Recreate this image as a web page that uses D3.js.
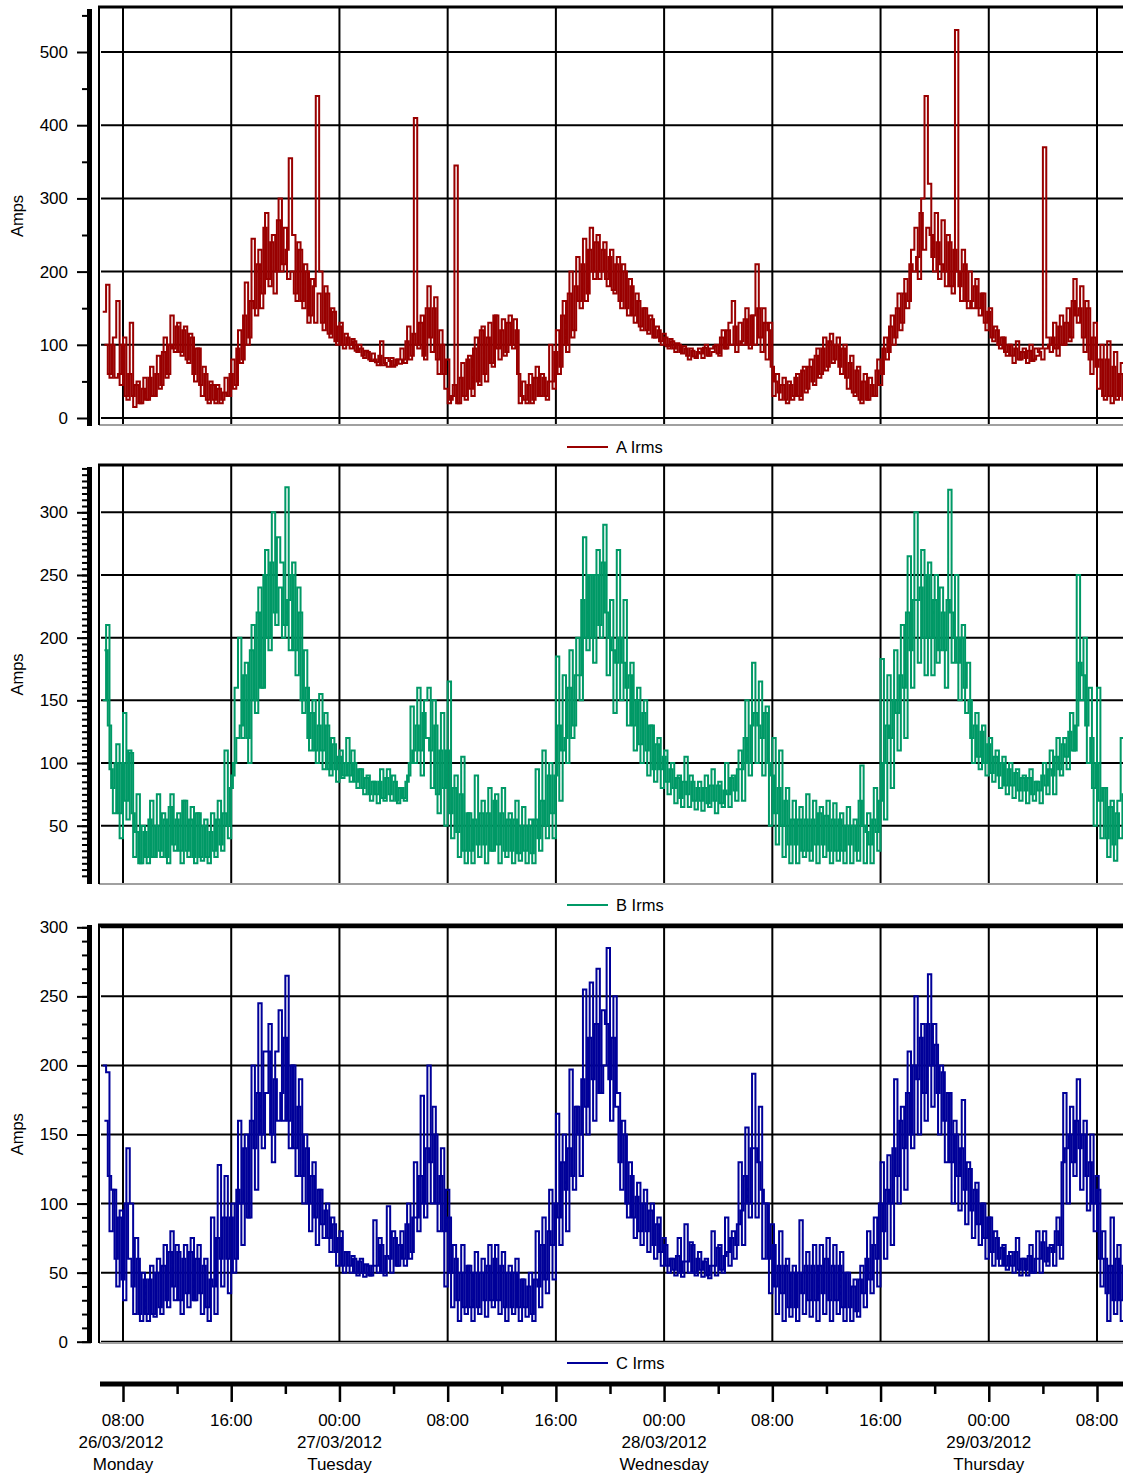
<!DOCTYPE html>
<html>
<head>
<meta charset="utf-8">
<script src="https://cdn.jsdelivr.net/npm/d3@7"></script>
<style>
  body { margin: 0; background: #fff; }
  text { font-family: Arial, "Liberation Sans", sans-serif; fill: #000; }
</style>
</head>
<body>
<svg id="chart" width="1123" height="1475"></svg>
<script>
// ---------------- DATA ----------------
const START = "2012-03-26 06:30:00";  // first sample of the main trace
const STEP_SEC = 900;                  // 15 min sampling step
const ALT_OFFSET_SEC = 450;            // second overlapping trace is sampled 7.5 min later
const seriesNames = ["A Irms", "B Irms", "C Irms"];

// one row per hour (4 samples of 15 min), rows start at hh:30
const aIrms = [
  // 26/03
  145,182,55,110, 160,45,110,25, 130,15,50,20, 55,25,70,30, 85,45,110,60, 140,90,130,85,
  125,75,110,50, 95,30,60,20, 45,20,40,25, 55,30,80,45, 120,80,185,110, 245,140,230,170,
  280,180,250,200, 300,210,230,355, 250,160,230,150, 200,140,180,440, 200,120,170,110, 145,100,130,95,
  // 27/03
  110,95,105,90, 95,82,90,78, 80,72,105,75, 70,82,72,80, 95,75,125,85, 410,95,140,80,
  180,90,165,60, 100,40,20,30, 345,20,75,25, 85,30,110,45, 125,50,130,70, 140,80,135,90,
  140,95,120,20, 50,20,60,25, 70,30,55,25, 100,40,120,70, 160,90,200,120, 220,150,245,170,
  260,190,250,200, 240,180,230,170, 220,150,200,140, 180,130,160,120, 150,115,135,110, 120,100,110,95,
  // 28/03
  105,90,100,88, 95,80,92,82, 95,82,100,85, 90,100,85,120, 95,130,160,90, 130,100,150,95,
  140,210,110,150, 80,130,30,60, 25,55,20,45, 30,60,25,70, 40,80,45,95, 60,110,70,115,
  80,110,60,100, 40,85,30,70, 20,60,25,45, 30,80,60,110, 90,140,110,170, 130,190,160,230,
  260,190,300,440, 320,220,280,190, 270,180,240,170, 530,180,230,160, 200,150,190,140, 170,120,150,105,
  // 29/03
  120,95,110,85, 100,75,105,80, 95,75,100,80, 85,95,370,110, 90,130,85,140, 100,150,110,190,
  130,180,90,150, 60,130,40,100, 25,105,20,90, 30,75,20,70
];
const aIrmsAlt = [
  // 26/03
  100,60,100,55, 60,100,30,60, 30,45,20,40, 25,55,30,60, 40,90,55,100, 95,125,90,120,
  80,115,60,95, 45,70,25,50, 25,45,20,35, 30,60,40,95, 75,140,100,160, 150,210,150,260,
  190,240,170,270, 200,260,190,200, 170,240,160,210, 130,190,130,170, 130,180,115,150, 105,125,100,115,
  // 27/03
  100,108,92,100, 85,92,80,88, 76,85,72,82, 78,70,80,74, 80,105,80,115, 100,130,85,150,
  110,150,80,120, 60,80,25,45, 20,55,30,80, 40,95,50,120, 60,110,75,140, 95,120,85,130,
  100,135,60,30, 25,45,20,55, 30,60,30,50, 50,90,60,140, 100,170,110,180, 160,210,160,230,
  200,240,190,230, 190,220,175,210, 160,210,150,190, 140,170,125,150, 120,140,110,125, 105,115,98,108,
  // 28/03
  95,102,90,98, 85,95,84,90, 88,96,85,95, 98,88,110,95, 120,100,125,100, 105,135,100,140,
  100,150,90,130, 120,70,50,35, 45,25,50,25, 55,30,65,35, 70,50,85,55, 95,65,105,75,
  100,70,95,55, 75,35,65,25, 50,25,55,30, 65,45,95,80, 125,100,150,120, 170,150,210,200,
  220,280,230,260, 250,200,240,210, 200,250,180,230, 200,160,210,150, 160,180,150,170, 130,145,110,125,
  // 29/03
  100,110,90,100, 85,95,80,90, 82,92,78,95, 90,80,95,100, 110,95,125,100, 130,105,160,140,
  150,110,160,80, 110,70,80,30, 80,30,70,25, 60,25,80,30
];

const bIrms = [
  // 26/03
  150,210,95,60, 115,40,140,55, 108,25,75,20, 45,20,70,25, 75,25,55,20, 75,30,60,20,
  70,25,65,20, 60,22,55,20, 60,25,70,30, 110,40,90,160, 200,120,180,100, 210,140,240,160,
  270,190,300,210, 240,200,320,190, 260,170,220,140, 160,110,150,100, 155,95,130,90, 115,85,110,90,
  // 27/03
  120,85,100,80, 95,75,90,70, 85,68,95,70, 95,70,85,68, 80,70,90,145, 100,160,90,150,
  160,80,130,60, 140,50,165,40, 90,25,105,20, 60,20,90,25, 70,20,80,30, 75,20,80,25,
  60,20,70,22, 65,20,55,20, 95,30,110,40, 100,40,185,70, 170,100,190,130, 200,150,280,190,
  250,180,270,200, 290,170,230,140, 270,150,230,130, 180,110,160,100, 150,90,130,85, 120,80,110,75,
  // 28/03
  100,68,90,65, 105,65,85,63, 85,62,90,65, 95,60,85,65, 100,65,90,70, 110,70,150,90,
  180,100,165,90, 145,50,120,35, 110,25,80,20, 70,20,65,25, 75,22,70,20, 65,25,70,20,
  68,22,60,20, 65,20,55,22, 98,20,60,20, 80,30,183,55, 170,80,190,110, 210,120,265,160,
  300,180,270,170, 260,170,250,190, 220,160,318,180, 250,150,210,140, 150,100,140,95, 130,90,120,85,
  // 29/03
  110,80,105,75, 100,72,95,70, 90,68,95,70, 85,68,100,75, 110,75,120,90, 120,95,140,110,
  250,150,200,100, 120,50,160,40, 80,25,70,22, 70,120,25,60
];
const bIrmsAlt = [
  // 26/03
  190,130,80,100, 60,100,70,110, 60,45,20,50, 25,55,25,50, 30,60,25,65, 35,55,30,70,
  30,55,25,60, 25,50,25,45, 30,55,35,60, 50,80,100,120, 130,170,120,190, 150,220,160,250,
  200,260,220,280, 260,210,230,250, 190,240,150,190, 120,140,110,130, 110,140,95,120, 95,105,88,100,
  // 27/03
  90,110,85,95, 80,88,75,85, 75,85,72,88, 75,90,70,80, 72,85,100,110, 130,110,140,120,
  110,150,75,110, 80,110,60,80, 45,75,30,60, 30,55,35,60, 35,60,30,70, 35,60,30,55,
  30,55,28,50, 30,50,28,55, 40,70,50,90, 60,90,130,110, 120,160,120,170, 170,230,200,250,
  200,250,210,260, 220,200,190,180, 200,180,160,170, 130,150,115,140, 110,130,95,115, 95,105,85,95,
  // 28/03
  80,88,72,85, 75,90,70,80, 70,80,68,82, 70,82,68,78, 75,88,78,95, 95,120,100,130,
  140,130,120,140, 100,90,60,80, 50,70,35,55, 35,55,30,55, 30,55,35,60, 35,58,30,55,
  30,55,30,50, 35,50,30,70, 50,45,35,55, 45,70,100,130, 120,150,140,170, 160,220,190,230,
  230,240,200,250, 200,230,180,240, 190,230,220,200, 180,200,160,180, 120,130,105,125, 100,115,92,105,
  // 29/03
  90,100,82,95, 82,92,78,88, 78,88,75,85, 78,90,82,95, 90,105,95,115, 105,125,110,130,
  180,170,130,160, 80,100,70,80, 40,65,35,60, 40,75,35,50
];

const cIrms = [
  // 26/03
  200,195,80,110, 40,95,30,140, 100,20,60,15, 45,15,55,18, 60,20,70,25, 80,30,65,20,
  70,25,75,30, 70,20,60,15, 90,20,128,40, 120,35,100,60, 160,70,150,90, 200,110,245,140,
  180,230,130,210, 240,160,265,140, 200,120,190,100, 140,80,130,70, 110,75,100,65, 85,55,80,50,
  // 27/03
  65,50,60,48, 60,47,55,48, 88,50,70,48, 98,50,75,55, 80,55,100,65, 130,80,178,90,
  200,100,150,80, 140,40,90,25, 60,15,70,20, 55,15,65,20, 60,18,70,25, 70,20,65,15,
  55,20,60,15, 45,18,50,15, 80,25,90,35, 110,45,165,70, 150,80,197,110, 170,120,255,150,
  260,160,270,180, 200,285,160,250, 180,110,150,90, 120,75,115,70, 110,65,100,60, 90,55,70,50,
  // 28/03
  60,48,75,47, 85,50,70,48, 65,47,60,46, 80,48,70,50, 90,55,80,70, 130,70,155,90,
  194,90,170,60, 100,35,70,20, 80,15,60,18, 55,15,88,20, 65,18,70,15, 70,20,75,15,
  70,20,65,15, 50,15,45,18, 55,25,80,35, 90,40,130,60, 135,70,190,100, 170,110,210,140,
  250,150,230,160, 266,170,215,150, 195,130,180,100, 150,95,175,85, 125,75,115,70, 100,60,90,55,
  // 29/03
  75,55,70,52, 65,50,75,48, 60,48,70,50, 80,50,80,55, 70,55,90,60, 180,100,170,120,
  190,110,160,95, 150,80,110,40, 60,15,90,20, 70,15,65,25
];
const cIrmsAlt = [
  // 26/03
  160,120,110,60, 90,45,100,60, 40,75,20,50, 20,45,20,50, 25,55,30,65, 40,70,30,60,
  35,65,30,60, 35,55,25,45, 40,75,60,90, 60,90,50,110, 100,140,90,160, 140,180,150,210,
  210,150,190,160, 180,220,160,200, 140,170,120,150, 100,120,90,110, 85,95,75,90, 65,75,55,65,
  // 27/03
  55,62,50,58, 50,56,48,55, 55,75,50,62, 60,80,55,70, 60,85,60,90, 90,120,100,140,
  130,170,100,120, 80,110,50,70, 30,50,25,55, 25,50,25,50, 30,55,30,60, 30,55,25,50,
  25,50,25,45, 25,40,20,45, 40,70,45,80, 70,100,90,130, 110,140,120,170, 150,190,170,220,
  190,230,180,240, 230,190,220,170, 130,160,100,130, 90,105,80,100, 80,95,70,85, 65,75,55,60,
  // 28/03
  52,62,50,58, 58,72,50,60, 52,58,48,55, 55,68,52,62, 65,75,60,85, 95,120,100,140,
  140,130,110,100, 60,85,40,55, 35,55,25,50, 25,50,35,55, 30,55,30,55, 35,60,30,55,
  30,55,25,50, 25,40,22,45, 35,60,45,70, 60,100,80,110, 100,140,120,160, 140,180,150,200,
  190,220,180,230, 200,230,180,200, 160,180,130,160, 120,140,110,130, 95,110,85,100, 75,90,65,80,
  // 29/03
  60,68,55,62, 55,65,52,60, 52,62,50,60, 60,72,58,68, 65,80,70,130, 140,150,130,160,
  140,150,120,130, 100,120,60,80, 35,55,30,60, 30,55,35,50
];

// y-axis tick values per panel
const aMajorTicks = [0, 100, 200, 300, 400, 500];
const aMinorTicks = [50, 150, 250, 350, 450, 550];
const bMajorTicks = [50, 100, 150, 200, 250, 300];
const cMajorTicks = [0, 50, 100, 150, 200, 250, 300];

// ---------------- DRAWING ----------------
const svg = d3.select("#chart");
const parse = d3.timeParse("%Y-%m-%d %H:%M:%S");
const t0 = parse(START);

const X0 = 99, X1 = 1123;
const x = d3.scaleTime()
  .domain([parse("2012-03-26 08:00:00"), parse("2012-03-29 08:00:00")])
  .range([123, 1097]);
const tEnd = x.invert(X1);
const tBegin = parse("2012-03-26 08:00:00");
const majorTimes = d3.timeHour.every(8).range(tBegin, tEnd);
const minorTimes = d3.timeHour.every(4).range(tBegin, tEnd).filter(t => t.getHours() % 8 !== 0);

const toPoints = (arr, off) => arr.map((v, i) => ({ t: d3.timeSecond.offset(t0, i * STEP_SEC + off), v }));

const panels = [
  { traces: [aIrms, aIrmsAlt], name: seriesNames[0], color: "#990000", top: 7, bottom: 425, topW: 3,
    axisTop: 9, axisBottom: 426, domain: [0, 500], range: [418, 52],
    major: aMajorTicks, minor: aMinorTicks, legendY: 447 },
  { traces: [bIrms, bIrmsAlt], name: seriesNames[1], color: "#009966", top: 465, bottom: 884, topW: 3,
    axisTop: 467, axisBottom: 884, domain: [50, 300], range: [825.7, 512.3],
    major: bMajorTicks, minor: d3.range(10, 336, 5), legendY: 905 },
  { traces: [cIrms, cIrmsAlt], name: seriesNames[2], color: "#000099", top: 925.5, bottom: 1343, topW: 4,
    axisTop: 925, axisBottom: 1343, domain: [0, 300], range: [1341.7, 927.3],
    major: cMajorTicks, minor: d3.range(0, 301, 10), legendY: 1363 }
];

panels.forEach((p, idx) => {
  const y = d3.scaleLinear().domain(p.domain).range(p.range);
  const g = svg.append("g");

  const clipId = "clip" + idx;
  svg.append("clipPath").attr("id", clipId)
    .append("rect").attr("x", X0 + 1).attr("y", p.top).attr("width", X1 - X0).attr("height", p.bottom - p.top);

  // horizontal grid lines
  g.selectAll(".hg").data(p.major).join("line")
    .attr("x1", X0 + 2).attr("x2", X1)
    .attr("y1", d => y(d)).attr("y2", d => y(d))
    .attr("stroke", "#000").attr("stroke-width", 2);

  // vertical grid lines
  g.selectAll(".vg").data(majorTimes).join("line")
    .attr("x1", d => x(d)).attr("x2", d => x(d))
    .attr("y1", p.top).attr("y2", p.bottom)
    .attr("stroke", "#000").attr("stroke-width", 2);

  // frame
  g.append("line").attr("x1", X0).attr("x2", X1).attr("y1", p.bottom).attr("y2", p.bottom)
    .attr("stroke", "#a0a0a0").attr("stroke-width", 2);
  g.append("line").attr("x1", X0).attr("x2", X0).attr("y1", p.top).attr("y2", p.bottom)
    .attr("stroke", "#000").attr("stroke-width", 2);
  g.append("line").attr("x1", X0 - 1).attr("x2", X1).attr("y1", p.top).attr("y2", p.top)
    .attr("stroke", "#000").attr("stroke-width", p.topW);

  // data traces
  const line = d3.line().x(d => x(d.t)).y(d => y(d.v)).curve(d3.curveStepAfter);
  p.traces.forEach((tr, k) => {
    g.append("path").datum(toPoints(tr, k === 0 ? 0 : ALT_OFFSET_SEC))
      .attr("clip-path", `url(#${clipId})`)
      .attr("d", line)
      .attr("fill", "none")
      .attr("stroke", p.color)
      .attr("stroke-width", 2)
      .attr("stroke-linejoin", "miter");
  });

  // y axis
  const axG = svg.append("g").attr("transform", "translate(91,0)");
  axG.call(d3.axisLeft(y).tickValues(p.minor).tickSize(9).tickSizeOuter(0).tickFormat(""));
  axG.call(g2 => g2.select(".domain").remove());
  axG.selectAll("line").attr("stroke", "#000").attr("stroke-width", 2);

  const axM = svg.append("g").attr("transform", "translate(91,0)");
  axM.call(d3.axisLeft(y).tickValues(p.major).tickSize(14).tickPadding(9).tickSizeOuter(0));
  axM.call(g2 => g2.select(".domain").remove());
  axM.selectAll("line").attr("stroke", "#000").attr("stroke-width", 2);
  axM.selectAll("text").attr("font-size", 17).attr("font-family", "Arial, 'Liberation Sans', sans-serif").attr("fill", "#000");

  svg.append("line").attr("x1", 89.5).attr("x2", 89.5)
    .attr("y1", p.axisTop).attr("y2", p.axisBottom)
    .attr("stroke", "#000").attr("stroke-width", 5);

  // axis title
  const midY = (p.top + p.bottom) / 2;
  svg.append("text")
    .attr("transform", `translate(23,${midY}) rotate(-90)`)
    .attr("text-anchor", "middle")
    .attr("font-size", 16.5)
    .text("Amps");

  // legend
  svg.append("line").attr("x1", 567).attr("x2", 608)
    .attr("y1", p.legendY).attr("y2", p.legendY)
    .attr("stroke", p.color).attr("stroke-width", 2);
  svg.append("text").attr("x", 616).attr("y", p.legendY + 6)
    .attr("font-size", 16.5).text(p.name);
});

// bottom time axis
const bx = svg.append("g").attr("transform", "translate(0,1384)");
bx.append("g").call(d3.axisBottom(x).tickValues(majorTimes).tickSize(18).tickSizeOuter(0).tickFormat(""))
  .call(g2 => g2.select(".domain").remove())
  .selectAll("line").attr("stroke", "#000").attr("stroke-width", 2.5);
bx.append("g").call(d3.axisBottom(x).tickValues(minorTimes).tickSize(10).tickSizeOuter(0).tickFormat(""))
  .call(g2 => g2.select(".domain").remove())
  .selectAll("line").attr("stroke", "#000").attr("stroke-width", 2.5);
svg.append("line").attr("x1", 100).attr("x2", X1).attr("y1", 1384).attr("y2", 1384)
  .attr("stroke", "#000").attr("stroke-width", 5);

const fTime = d3.timeFormat("%H:%M"), fDate = d3.timeFormat("%d/%m/%Y"), fDay = d3.timeFormat("%A");
majorTimes.forEach((t, i) => {
  const cx = x(t);
  svg.append("text").attr("x", cx).attr("y", 1425.5).attr("text-anchor", "middle")
    .attr("font-size", 17).text(fTime(t));
  if (i === 0 || t.getHours() === 0) {
    svg.append("text").attr("x", cx - (i === 0 ? 2 : 0)).attr("y", 1447.5).attr("text-anchor", "middle")
      .attr("font-size", 17).text(fDate(t));
    svg.append("text").attr("x", cx).attr("y", 1470).attr("text-anchor", "middle")
      .attr("font-size", 17).text(fDay(t));
  }
});
</script>
</body>
</html>
